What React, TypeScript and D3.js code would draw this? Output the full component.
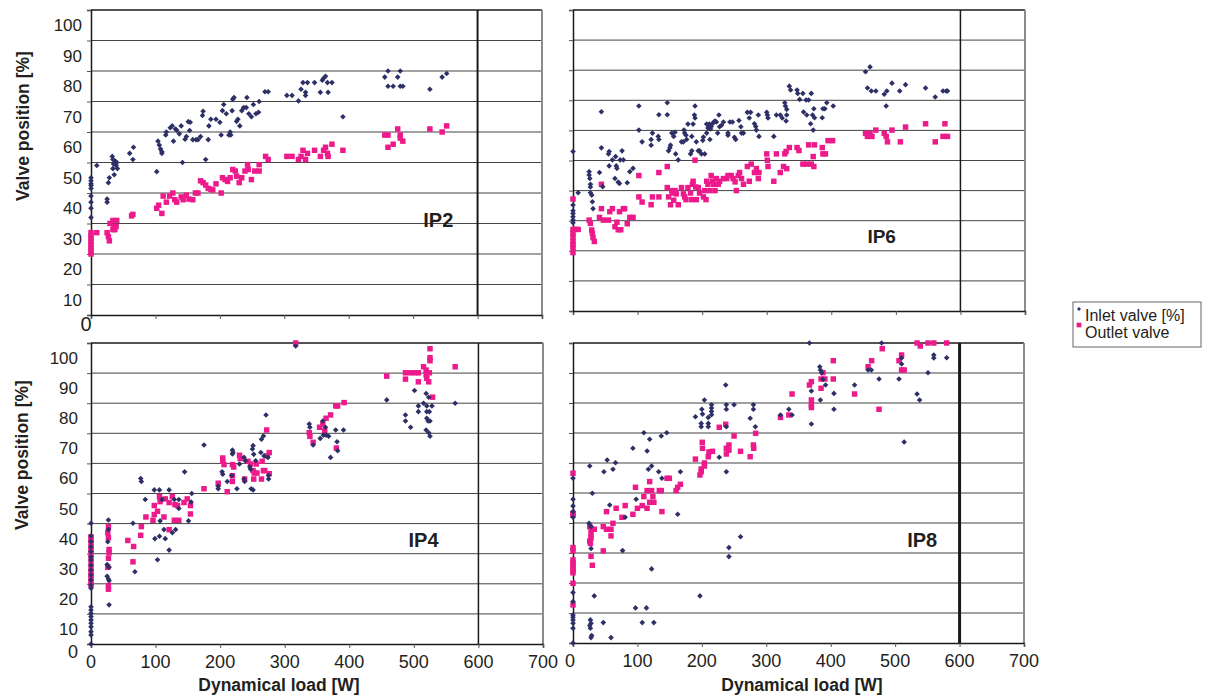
import React, { useEffect, useRef } from 'react';
import * as d3 from 'd3';

type Pt = [number, number];

// axis ticks
const xTicks = [0, 100, 200, 300, 400, 500, 600, 700];
const yTicks = [0, 10, 20, 30, 40, 50, 60, 70, 80, 90, 100];
const yTickLabels = [10, 20, 30, 40, 50, 60, 70, 80, 90, 100];

const seriesNames = ['Inlet valve [%]', 'Outlet valve'];

// IP2 (top left)
const ip2Inlet: Pt[] = [
  [0, 45], [0, 44], [0, 43], [0, 42.5], [0, 41.5], [0, 39], [0, 37], [0, 35], [0, 32],
  [9, 49], [25, 38], [25, 37], [27, 43.4], [28.5, 45], [33, 52], [34, 48], [35, 49.5], [36, 46], [37.5, 50.5], [40, 50], [41, 48], [39, 49], [34, 51],
  [60, 53], [65, 51], [66, 55],
  [102, 47], [104, 57], [106, 55.7], [108, 54.4], [110, 53.5], [110, 53],
  [116, 59], [117, 60], [123, 61.4], [126, 62], [128, 57], [131, 61], [133, 60.6], [137, 59.4], [140, 62], [142, 50], [146, 57.6], [148, 58.5],
  [151, 63.4], [153, 60.5], [154, 63.2], [158, 57.5], [163, 57.5], [166, 57.5], [170, 58.5], [173, 65.4], [174, 66.8], [178, 51], [182, 57.5],
  [183, 62], [186, 64.2], [194, 64.2], [200, 63.2], [202, 59], [204, 67], [206, 69], [210, 66], [214, 59], [216, 60], [219, 67], [220, 70.7],
  [222, 71.3], [217, 59], [226, 63.5], [228, 64.2], [231, 62], [234, 67], [237, 68], [241, 68], [242, 71.3], [245, 66], [249, 65], [252, 69],
  [256, 66], [261, 70], [260, 66.5], [270, 73.2], [275, 73.2],
  [304, 72], [312, 72], [322, 70.2], [326, 74], [329, 76.2], [333, 73], [333, 72], [336, 76.2], [347, 76.2], [356, 73], [359, 77], [361, 77.6],
  [364, 78.3], [367, 76.2], [368, 73], [374, 76.2], [391, 65], [456, 78], [461, 80], [461, 75], [469, 75], [476, 78], [480, 80], [480, 75],
  [484, 75], [526, 74], [545, 78], [552, 79.2],
];
const ip2Outlet: Pt[] = [
  [0, 27], [0, 26], [0, 25], [0, 24], [0, 23], [0, 22], [0, 21], [0, 20], [9, 27],
  [25, 27], [27, 25.7], [28.5, 24.3], [29.5, 30], [34, 31], [35.5, 29], [37, 28], [40, 31], [34, 28], [39, 29], [63, 32.5], [65, 33],
  [102, 35], [105, 36], [110, 33.3], [112, 39], [117, 37], [122, 39], [127, 40], [130, 37.8], [133, 37], [140, 38.7], [143, 37.8], [148, 39.3],
  [152, 38], [158, 37.8], [162, 40], [166, 40], [170, 44], [174, 43.4], [178, 42.6], [182, 41.5], [186, 41.2], [189, 41], [194, 43], [202, 40],
  [204, 45], [208, 44.4], [212, 43.8], [216, 45], [220, 47.7], [224, 47.2], [226, 45.5], [230, 43.4], [234, 45], [239, 47.2], [243, 49.3],
  [244, 47.7], [249, 44.4], [254, 47.2], [261, 47.2], [261, 49.3], [271, 52], [275, 51],
  [304, 52], [312, 52], [322, 51], [326, 52], [329, 54], [333, 51], [336, 53], [347, 54], [356, 52], [361, 54], [364, 55], [367, 53], [368, 52],
  [374, 56], [391, 54], [456, 59], [461, 59], [461, 55], [469, 56], [476, 61], [480, 59], [480, 58], [484, 57], [526, 61], [545, 60], [552, 62],
];

// IP6 (top right)
const ip6Inlet: Pt[] = [
  [0, 53], [0, 35.2], [0, 33.3], [0, 32.4], [0, 31.3], [0, 30.2], [0, 29.3], [8, 39.3],
  [25, 46.3], [25, 45.2], [26, 44], [27, 42.1], [27, 41.2], [27, 39.3], [29, 38.5], [30, 36.3], [31, 34],
  [41, 46], [44, 66.2], [44, 54.2], [46, 41.3],
  [55, 52.2], [56, 53], [56, 48.2], [61, 50.2], [65, 44], [66, 51.3], [67, 48.2], [68, 47.4], [70, 42.8], [72, 42.4], [73, 50.2], [76, 53.2],
  [78, 50.2], [84, 42.6], [88, 46.3], [93, 47.4],
  [102, 68.1], [102, 60.1], [107, 56.2], [121, 55.1], [121, 57], [123, 59.1], [132, 58], [133, 57], [133, 65.2], [146, 69.2], [146, 65.2],
  [148, 53.2], [150, 54.2], [151, 55.1], [153, 59.1], [156, 58], [158, 59.4], [159, 52.2], [163, 50.2], [168, 56.2], [171, 56.2], [172, 60.1],
  [173, 59.1], [175, 58.4], [176, 57], [178, 62.1], [182, 52.2], [184, 58], [184, 53.2], [186, 62.1], [188, 65.1], [189, 68.1], [189, 64.1],
  [191, 56.2], [194, 53.2], [196, 53.2], [199, 52.2], [201, 56.7], [202, 57.8], [204, 52.2], [207, 62.1], [207, 59.1], [209, 60.8], [211, 62.1],
  [212, 57], [213, 60.5], [214, 61.3], [216, 62.2], [218, 62.8], [220, 63.1], [222, 62.8], [224, 59.1], [226, 65.1], [227, 61.2], [230, 61.7],
  [233, 62.8], [240, 59.1], [240, 58.4], [243, 62.8], [247, 62.8], [250, 57.7], [252, 57], [257, 63.3], [260, 61.2], [261, 59.1], [264, 59.1],
  [270, 66], [273, 64.1], [275, 66], [281, 62.2], [283, 61.3], [284, 60.1], [287, 65.1], [288, 58], [300, 66], [301, 65.1], [302, 64.1],
  [311, 58], [315, 65.1], [321, 65.1], [324, 64.1], [328, 69.2], [329, 68.1], [331, 67], [331, 65.1], [330, 63.1], [335, 74.7], [337, 73.4],
  [347, 73.4], [348, 72.3], [351, 70.3], [356, 72.3], [357, 66.1], [361, 70.1], [362, 65.1], [365, 70.1], [368, 62.2], [369, 72.3], [371, 65.1],
  [372, 60.1], [373, 67.2], [374, 64.2], [386, 64.2], [387, 67.2], [390, 67.2], [393, 69.2], [403, 68.1],
  [453, 79.5], [460, 81.1], [456, 74.1], [462, 73.1], [469, 73.1], [482, 72], [485, 68.1], [486, 73.1], [494, 75.7], [506, 73.1], [515, 75.2],
  [546, 74.1], [561, 71.1], [573, 73.1], [578, 73.1], [580, 73.1],
];
const ip6Outlet: Pt[] = [
  [0, 37.2], [0, 27.1], [3, 27.1], [8, 27.1], [0, 25.8], [0, 24.5], [0, 23.1], [0, 22], [0, 21], [0, 19.4],
  [25, 30.2], [27, 29.1], [29, 26.9], [30, 25.8], [31, 24.4], [33, 23.1],
  [41, 31.1], [44, 34], [44, 42.1], [47, 30.2], [55, 30.2], [57, 33], [61, 34], [65, 28], [68, 29.5], [70, 27], [72, 33], [74, 27], [78, 34],
  [80, 34], [84, 29], [88, 31.1], [93, 31.1],
  [102, 37.9], [102, 45], [107, 36.2], [121, 35.3], [123, 37.9], [133, 46], [133, 37.9], [146, 48], [146, 41], [148, 37.9], [151, 35.3],
  [153, 40], [154, 39.2], [156, 36.8], [158, 40], [160, 38.9], [163, 35.3], [168, 41], [171, 38.9], [173, 37.9], [175, 37], [178, 41],
  [182, 39.2], [184, 37], [185, 42.1], [186, 43.1], [189, 50.1], [190, 41.2], [191, 37], [194, 41], [196, 39.2], [202, 37.9], [204, 40],
  [206, 37], [207, 43.1], [209, 42.1], [212, 40], [214, 45], [216, 43.1], [218, 42.1], [220, 40], [222, 44], [225, 42.1], [227, 43.1],
  [233, 44], [238, 44], [240, 45], [245, 45], [248, 44], [251, 42.9], [253, 40], [256, 45], [258, 46], [261, 44], [264, 42.1], [270, 48],
  [273, 43.1], [276, 48.8], [281, 46], [284, 47.3], [287, 44], [288, 46], [300, 52.2], [301, 50.1], [302, 48], [311, 43.1], [315, 52.2],
  [321, 46], [326, 48], [328, 52.2], [330, 53], [331, 47.3], [335, 54.3], [347, 54.3], [350, 53.3], [356, 48.8], [362, 48.8], [365, 55.2],
  [369, 48.8], [372, 51.3], [373, 48], [374, 55.2], [386, 54.3], [387, 52.2], [391, 52.2], [395, 56.6], [402, 56.6],
  [453, 59], [456, 58], [460, 59], [463, 58], [469, 60.1], [482, 59], [485, 58], [487, 56.2], [494, 60.1], [507, 56.2], [515, 61.1],
  [546, 62.2], [561, 56.2], [573, 58], [576, 62.2], [580, 58],
];

// IP4 (bottom left)
const ip4Inlet: Pt[] = [
  [0, 40.1], [0, 35.9], [0, 34], [0, 32.3], [0, 30.7], [0, 29], [0, 27.9], [0, 26.2], [0, 24.6], [0, 22.9], [0, 21.3], [0, 19.6], [0, 18.5],
  [0, 12.4], [0, 11.3], [0, 10.2], [0, 9.1], [0, 8], [0, 6.9], [0, 5.7], [0, 4.1], [0, 3], [0, 0],
  [27, 41.2], [27, 38], [26, 34], [25, 26.4], [25, 22.5], [27, 21.6], [28, 21], [28, 25.5], [28, 13],
  [65, 40.1], [68, 24], [77, 55], [78, 54], [84, 48], [98, 51.2], [99, 35], [103, 28], [106, 51.2], [106, 35.8], [107, 40.9], [110, 48],
  [113, 38], [115, 35], [121, 51.2], [121, 31.2], [126, 37], [129, 48], [131, 38], [136, 48], [136, 45], [145, 57.2], [151, 40.9], [155, 47.2],
  [156, 50],
  [175, 66.1], [197, 52.4], [197, 51.6], [203, 57.2], [204, 56.4], [211, 54], [218, 56], [219, 63.1], [219, 64.4], [220, 63.6], [226, 51.6],
  [230, 59.8], [237, 62], [237, 54.8], [238, 54], [239, 60.9], [246, 58.9], [247, 58.1], [248, 51.6], [250, 64.8], [251, 65.9], [251, 51.2],
  [252, 63], [255, 60.9], [263, 63.6], [264, 68], [267, 69.1], [268, 62.5], [271, 76.1], [274, 62], [275, 56], [275, 54.8],
  [317, 99], [338, 73.1], [339, 72], [344, 66.1], [355, 68.3], [359, 74.1], [363, 72], [360, 69.4], [364, 69.4], [368, 69], [371, 62],
  [379, 71.1], [381, 67.2], [382, 64.2], [391, 71.1], [458, 81.1], [487, 76.1], [487, 74.1], [495, 72], [501, 84.2], [507, 79.1], [507, 77.2],
  [515, 80], [519, 83.2], [520, 79.1], [520, 77.2], [520, 75], [522, 74.1], [524, 77.2], [525, 74.1], [519, 71.1], [523, 70.2], [525, 69],
  [528, 79.1], [523, 82], [564, 80],
];
const ip4Outlet: Pt[] = [
  [0, 35.6], [0, 34.6], [0, 33.7], [0, 32.3], [0, 31.2], [0, 30.1], [0, 28.5], [0, 26.8], [0, 25.1], [0, 24], [0, 22.9], [0, 21.8], [0, 20.7],
  [0, 19.6],
  [27, 39], [26, 37], [27, 35.3], [28, 31.4], [28, 30.3], [27, 28.5], [26, 25.5], [27, 19.4], [27, 18.2],
  [57, 34.4], [66, 32.4], [65, 27.3], [78, 39], [77, 36.1], [85, 42.2], [96, 41.1], [98, 43], [98, 46], [103, 44.1], [106, 49], [107, 47.3],
  [113, 42.2], [115, 48.2], [121, 38], [121, 47], [126, 49], [129, 41.1], [130, 46.3], [136, 41.1], [134, 46], [144, 47], [149, 48.2],
  [154, 46], [154, 43.2],
  [175, 51.6], [197, 53.4], [204, 61.8], [204, 60.7], [206, 59.6], [211, 50.6], [219, 54], [219, 55.9], [219, 59.6], [221, 58.8], [230, 62.7],
  [231, 61.6], [238, 54.8], [243, 60.7], [247, 59.8], [251, 57.6], [252, 54.8], [253, 56.8], [256, 59.8], [257, 56.8], [264, 54.8],
  [265, 60.7], [267, 57.6], [269, 57.6], [272, 71.1], [276, 63.6], [276, 56.6], [273, 62.5],
  [317, 100], [338, 70.2], [339, 69], [344, 67], [354, 72], [359, 73.1], [362, 70.8], [364, 75], [371, 76.1], [379, 79.1], [382, 79.1],
  [380, 65.1], [392, 80.2], [458, 89], [487, 90.1], [487, 88], [495, 90.1], [501, 90.1], [507, 90.1], [507, 87.1], [515, 92.1], [519, 91],
  [519, 89.4], [520, 88.3], [523, 87.1], [524, 90.1], [525, 98.1], [525, 95.1], [525, 94.1], [529, 82], [564, 92.1],
];

// IP8 (bottom right)
const ip8Inlet: Pt[] = [
  [0, 54.9], [0, 47.9], [0, 45.7], [0, 43.8], [0, 41.9], [0, 16.8], [0, 13.8], [0, 9.3], [0, 8.6], [0, 7.7], [0, 6.6], [0, 4.9], [0, 0],
  [26, 59], [30, 49.9], [25, 39.9], [28, 38.8], [28, 31.5], [33, 15.7], [27, 7.7], [28, 6.6], [26, 5.8], [27, 4.9], [29, 2.5], [28, 1.8],
  [47, 6.8], [48, 57.1], [53, 61], [57, 46], [59, 1.8], [62, 57.9], [66, 60.1], [77, 30.8], [81, 41.9], [93, 64.9], [97, 11.7], [98, 47.9],
  [107.5, 6.8], [110, 70.1], [114, 11.7], [115, 64], [119, 67.9], [117, 57.9], [122, 59], [122, 24.7], [125.5, 6.8], [133, 57.1], [137, 69],
  [138, 54.9], [145.5, 70.1], [162.5, 42.9], [166.7, 57.1],
  [190, 75.4], [197, 15.7], [199, 73.2], [199, 72.1], [200, 77.9], [201, 76.3], [204, 81], [210, 75.2], [210, 73.2], [210, 72.1], [215, 79.4],
  [215, 78.3], [215, 77.2], [215, 76.1], [227, 61.9], [237, 86], [238, 79.4], [238, 77.9], [238, 72.1], [238, 57.1], [242, 31.8], [242, 28.8],
  [250, 79.4], [260, 35.4], [275, 74.9], [280, 79.4], [280, 77.9], [283, 72.1],
  [322, 76], [335, 77.9], [340, 76], [367, 100], [370, 84], [370, 73], [383, 92.1], [384, 91], [386, 90.1], [384, 81], [388, 87.9], [392, 86],
  [405, 83.2], [405, 77.9],
  [437, 86], [458, 91], [463, 91], [475, 88], [479, 100], [506, 88], [510, 93], [510, 95], [514, 67], [534, 83], [538, 81], [551, 90.1],
  [560, 96], [560, 95], [580, 95.1],
];
const ip8Outlet: Pt[] = [
  [0, 56.6], [0, 43.2], [0, 42.7], [0, 31.8], [0, 30.7], [0, 27.7], [0, 26.8], [0, 25.9], [0, 25], [0, 24.1], [0, 23.4], [0, 19.9], [0, 12.7],
  [26, 38.8], [28, 37.9], [33, 37.9], [28, 36.1], [28, 35], [26, 34], [27, 33.2], [28, 28.9], [30, 25.9], [47, 38.8], [47, 30.7], [52, 43.8],
  [52, 37.9], [59, 37.9], [59, 35.7], [62, 39.9], [67, 44.9], [76, 41.9], [81, 45.8], [93, 42.9], [97, 51.9], [100, 44.9], [107.5, 45.8],
  [110, 48.8], [115, 50.8], [115, 44.9], [119, 53.8], [119, 46.9], [122, 50.8], [124, 48.8], [125.5, 46.9], [134, 50.8], [137, 50.8],
  [138, 43.8], [146, 54.9], [149.5, 54.9], [160, 50.8], [162.5, 51.9], [166.7, 52.9],
  [190, 61.3], [197, 56], [199, 57.1], [199, 58], [201, 64.9], [200.6, 66.9], [204, 59], [204, 60], [210, 62.1], [211, 63.7], [216.5, 63.9],
  [227, 71.9], [237, 72.9], [238, 64.9], [238, 63], [242, 66], [242, 64.3], [250, 69], [260, 63.9], [275, 62.1], [280, 66], [280.5, 64.9],
  [283.5, 69.9],
  [322, 75.2], [335, 76], [340, 83], [367, 86], [370, 87.1], [370, 81], [370, 79.4], [370, 78.5], [385, 84.9], [388, 90.1], [385, 88],
  [391, 88], [404, 94.1], [404, 88],
  [437, 83], [458, 92.1], [463.5, 94.1], [475, 77.9], [480, 98.1], [506, 94.1], [510, 96], [510, 91], [514, 91], [534, 100], [539, 99],
  [551, 100], [560, 100], [580, 100],
];

const FONT = '"Liberation Sans", Arial, Helvetica, sans-serif';
const INLET = '#2d3066';
const OUTLET = '#ec1a8b';
const TEXT = '#231f20';

const panels = [
  { name: 'IP2', inlet: ip2Inlet, outlet: ip2Outlet, box: { l: 91, r: 542, t: 10, b: 315 }, yLab: true, xLab: false, tag: [539, 29], tagSize: 20, cut: 2 },
  { name: 'IP6', inlet: ip6Inlet, outlet: ip6Outlet, box: { l: 573, r: 1025, t: 10, b: 311 }, yLab: false, xLab: false, tag: [478, 22.6], tagSize: 19, cut: 1.5 },
  { name: 'IP4', inlet: ip4Inlet, outlet: ip4Outlet, box: { l: 91, r: 543, t: 343, b: 644 }, yLab: true, xLab: true, tag: [515, 32.2], tagSize: 20, cut: 1.5 },
  { name: 'IP8', inlet: ip8Inlet, outlet: ip8Outlet, box: { l: 573, r: 1024, t: 343, b: 643 }, yLab: false, xLab: true, tag: [542, 32], tagSize: 20, cut: 3 },
];

const diamond = (r: number) => `M0,${-r}L${r},0L0,${r}L${-r},0Z`;

export default function App() {
  const svgRef = useRef<SVGSVGElement | null>(null);

  useEffect(() => {
    const svg = d3.select(svgRef.current);
    svg.selectAll('*').remove();
    svg.append('rect').attr('width', 1205).attr('height', 700).attr('fill', '#fff');

    panels.forEach((p, i) => {
      const x = d3.scaleLinear().domain([0, 700]).range([p.box.l, p.box.r]);
      const y = d3.scaleLinear().domain([0, 100]).range([p.box.b, p.box.t]);
      const g = svg.append('g').attr('class', `panel-${p.name}`);

      // horizontal gridlines
      g.selectAll('line.grid')
        .data(yTicks.filter(t => t > 0 && t < 100))
        .enter().append('line')
        .attr('x1', x(0)).attr('x2', x(700))
        .attr('y1', d => y(d)).attr('y2', d => y(d))
        .attr('stroke', '#444').attr('stroke-width', 1);

      // frame: top black, right grey
      g.append('line').attr('x1', x(0)).attr('x2', x(700)).attr('y1', y(100)).attr('y2', y(100))
        .attr('stroke', '#1a1a1a').attr('stroke-width', 1.5);
      g.append('line').attr('x1', x(700)).attr('x2', x(700)).attr('y1', y(100)).attr('y2', y(0))
        .attr('stroke', '#8c8c8c').attr('stroke-width', 2);

      // 600 W marker line
      g.append('line').attr('x1', x(600)).attr('x2', x(600)).attr('y1', y(100)).attr('y2', y(0))
        .attr('stroke', '#1a1a1a').attr('stroke-width', p.cut);

      // axes
      const xAxis = d3.axisBottom(x).tickValues(xTicks).tickSize(4).tickFormat(() => '');
      const ax = g.append('g').attr('transform', `translate(0,${y(0)})`).call(xAxis);
      ax.select('.domain').attr('stroke', '#1a1a1a').attr('stroke-width', 1.5);
      ax.selectAll('.tick line').attr('stroke', '#555');

      const yAxis = d3.axisLeft(y).tickValues(yTicks).tickSize(4).tickFormat(() => '');
      const ay = g.append('g').attr('transform', `translate(${x(0)},0)`).call(yAxis);
      ay.select('.domain').attr('stroke', '#1a1a1a').attr('stroke-width', 1.5);
      ay.selectAll('.tick line').attr('stroke', '#555');

      // points: outlet first, inlet on top
      g.selectAll('path.out')
        .data(p.outlet).enter().append('path')
        .attr('d', d3.symbol().type(d3.symbolSquare).size(30)())
        .attr('transform', d => `translate(${x(d[0])},${y(d[1])})`)
        .attr('fill', OUTLET);
      g.selectAll('path.in')
        .data(p.inlet).enter().append('path')
        .attr('d', diamond(2.8))
        .attr('transform', d => `translate(${x(d[0])},${y(d[1])})`)
        .attr('fill', INLET);

      // y tick labels (offset half a step, as in the original)
      if (p.yLab) {
        g.selectAll('text.yl')
          .data(yTickLabels).enter().append('text')
          .attr('x', x(0) - (i === 0 ? 9 : 13))
          .attr('y', d => y(d - 5) + 6)
          .attr('text-anchor', 'end')
          .attr('font-family', FONT).attr('font-size', 17).attr('fill', TEXT)
          .text(d => d);
        g.append('text')
          .attr('x', i === 0 ? x(0) - 5 : x(0) - 18)
          .attr('y', i === 0 ? y(0) + 16 : y(0) + 14)
          .attr('text-anchor', 'middle')
          .attr('font-family', FONT).attr('font-size', i === 0 ? 20 : 18).attr('fill', TEXT)
          .text('0');
        g.append('text')
          .attr('transform', `translate(${i === 0 ? 29 : 28},${i === 0 ? 126 : 455}) rotate(-90)`)
          .attr('text-anchor', 'middle')
          .attr('font-family', FONT).attr('font-size', 17.5).attr('font-weight', 'bold').attr('fill', TEXT)
          .text('Valve position [%]');
      }

      if (p.xLab) {
        g.selectAll('text.xl')
          .data(xTicks).enter().append('text')
          .attr('x', d => x(d) - (d === 0 && i === 3 ? 3 : 0))
          .attr('y', y(0) + 24)
          .attr('text-anchor', 'middle')
          .attr('font-family', FONT).attr('font-size', 18).attr('fill', TEXT)
          .text(d => d);
        g.append('text')
          .attr('x', i === 2 ? 279 : 802)
          .attr('y', 691)
          .attr('text-anchor', 'middle')
          .attr('font-family', FONT).attr('font-size', 17.5).attr('font-weight', 'bold').attr('fill', TEXT)
          .text('Dynamical load [W]');
      }

      // panel tag
      g.append('text')
        .attr('x', x(p.tag[0])).attr('y', y(p.tag[1]))
        .attr('text-anchor', 'middle')
        .attr('font-family', FONT).attr('font-size', p.tagSize).attr('font-weight', 'bold').attr('fill', TEXT)
        .text(p.name);
    });

    // legend
    const lg = svg.append('g').attr('transform', 'translate(1073,302)');
    lg.append('rect').attr('width', 128).attr('height', 45).attr('fill', '#fff')
      .attr('stroke', '#666').attr('stroke-width', 1);
    lg.append('path').attr('d', diamond(2)).attr('transform', 'translate(6,7)').attr('fill', INLET);
    lg.append('path').attr('d', d3.symbol().type(d3.symbolSquare).size(22)()).attr('transform', 'translate(6,23)').attr('fill', OUTLET);
    lg.selectAll('text.lg')
      .data(seriesNames).enter().append('text')
      .attr('x', 12).attr('y', (d, k) => 19 + k * 17)
      .attr('font-family', FONT).attr('font-size', 16).attr('fill', TEXT)
      .text(d => d);
  }, []);

  return (
    <svg ref={svgRef} width={1205} height={700}
      style={{ position: 'absolute', left: 0, top: 0, background: '#fff' }} />
  );
}
